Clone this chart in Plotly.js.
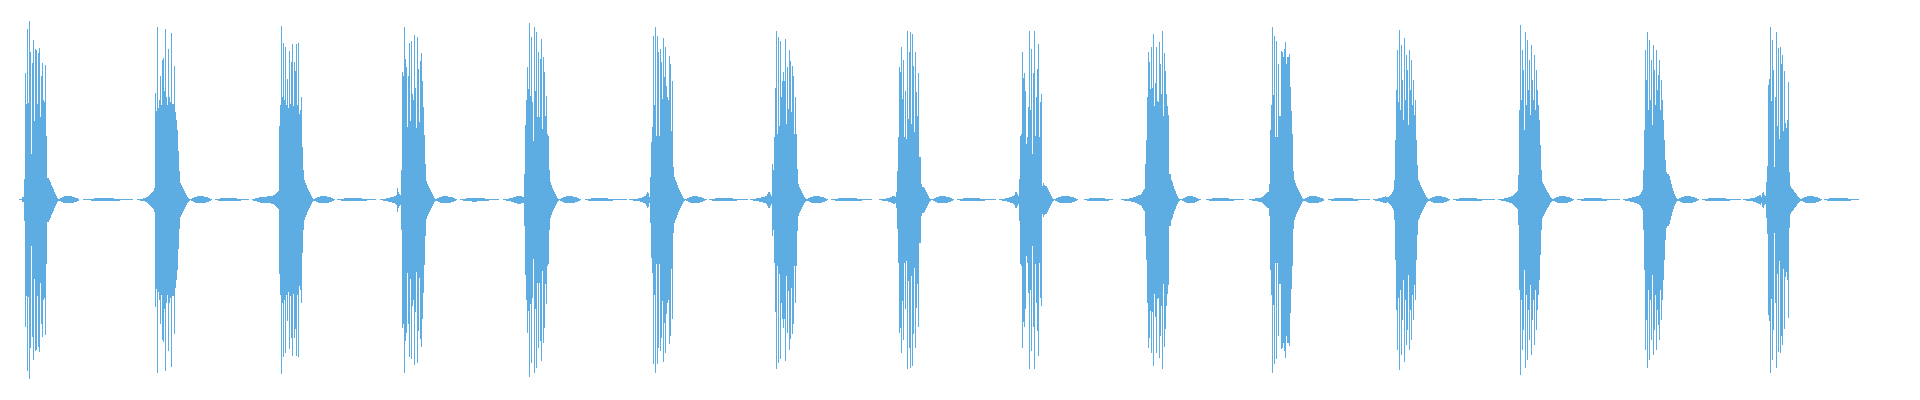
<!DOCTYPE html>
<html>
<head>
<meta charset="utf-8">
<script src="https://cdn.plot.ly/plotly-3.0.1.min.js"></script>
<style>html,body{margin:0;padding:0;background:#ffffff;overflow:hidden}</style>
</head>
<body>
<div id="chart" style="width:1920px;height:400px"></div>
<script>
// Heart-sound style waveform: symmetric envelope amplitude per sample column.
const totalSamples = 1841;
// sample index where each beat's main burst starts
const onsets = [5,136,260,382,505,631,753,877,1000,1126,1250,1375,1499,1624,1747];

const lead = [0.5,0.5,0.5,2.5,2.5];

// main burst + decay of each beat
const b01 = [21,127,96,171,97,179,148,46,137,160,79,151,150,96,147,152,83,124,137,100,98,135,64,22,22,20,18,15,13,11,8,6,4,2,1];
const b02 = [107,89,173,92,100,124,95,140,142,109,171,103,95,151,103,98,167,96,96,134,88,80,70,49,29,17,15,13,11,9,7,5,3,2,1];
const b03 = [74,95,174,103,157,100,153,95,121,92,149,96,138,156,94,138,129,156,95,157,86,90,103,53,30,20,17,15,12,10,8,6,4,2,1];
const b04 = [30,128,124,173,141,133,73,124,157,79,159,106,100,165,112,72,163,131,78,139,147,119,93,65,36,19,16,14,12,10,8,6,4,2,1];
const b05 = [26,75,100,133,111,177,104,163,98,59,173,109,168,83,148,83,141,161,71,143,128,84,104,66,64,30,18,15,12,10,8,6,4,2,1];
const b06 = [23,58,73,164,95,173,64,164,148,64,151,138,101,162,123,153,114,103,100,144,136,69,119,33,23,20,18,15,12,10,8,6,4,2,1];
const b07 = [36,30,63,112,169,66,163,74,159,103,119,128,119,161,76,133,91,150,139,88,134,124,66,103,66,31,16,13,11,9,7,5,3,2,1];
const b08 = [8,29,63,133,128,153,101,140,63,109,61,169,81,148,168,76,166,134,68,148,108,84,127,43,43,16,13,13,12,10,8,6,4,2,1];
const b09 = [21,64,66,148,122,127,109,56,63,93,169,90,151,46,127,169,64,103,131,156,63,98,106,14,17,15,14,14,12,10,8,6,4,2,1];
const b10 = [36,60,103,148,138,111,153,112,166,94,117,153,99,98,158,136,106,169,84,147,129,106,94,85,26,26,20,18,14,11,9,6,4,2,1];
const b11 = [16,70,95,173,105,164,63,159,63,136,84,84,149,148,143,151,158,136,143,143,146,113,89,66,29,20,17,14,12,10,8,6,4,2,1];
const b12 = [20,60,110,150,98,170,90,155,120,80,162,100,145,130,75,150,110,140,95,120,85,100,60,35,20,18,15,13,11,9,7,5,3,2,1];
const b13 = [25,90,175,100,150,130,70,168,95,160,110,140,85,155,120,100,145,90,130,110,95,80,55,30,18,16,14,12,10,8,7,5,3,2,1];
const b14 = [30,70,150,120,168,90,160,100,140,75,155,130,95,150,110,125,140,90,120,100,80,60,40,28,26,26,24,20,16,12,9,6,4,2,1];
const b15 = [18,34,115,121,173,99,160,130,33,103,168,74,152,61,153,136,145,69,129,77,72,80,118,28,14,12,11,10,8,7,6,4,3,2,1];

// quiet part after each burst: small oval, gap, low flat stretch
const t01 = [1,1.5,2,2.5,3,3.5,3.5,3.5,3.5,3.5,3.5,3.5,3.5,3,3,2.5,2,2,1.5,1,0,0,0,0,0.5,0.5,0.5,0.5,0.5,0.5,0.5,0.5,1,1,1,1.5,1.5,1.5,1.5,1.5,1.5,1.5,1.5,1.5,1.5,1.5,1.5,1.5,1.5,1.5,1.5,1.5,1.5,1.5,1.5,1,1,1,1,1,1,0.5,0.5,0.5,0.5,0.5,0.5,0.5,0.5,0.5,0.5,0.5,0.5,0.5];
const t02 = [0.5,1,1.5,2,2.5,3,3,3.5,3.5,3.5,3.5,3.5,3.5,3.5,3,3,2.5,2.5,2,1.5,1,0.5,0,0,0,0.5,0.5,0.5,1,1,1.5,1.5,1.5,1.5,1.5,1.5,1.5,1.5,1.5,1.5,1.5,1.5,1.5,1.5,1.5,1.5,1.5,1,1,1,1,0.5,0.5,0.5,0.5,0.5,0.5,0.5,0.5,0.5,0.5,0.5,0.5,0.5,0.5,0.5,0.5,0.5,0.5,0.5];
const t03 = [1,1.5,2,2.5,3,3,3.5,3.5,3.5,3.5,3.5,3.5,3.5,3,3,2.5,2.5,2,1.5,1,0.5,0,0,0.5,0.5,0.5,0.5,1,1,1,1.5,1.5,1.5,1.5,1.5,1.5,1.5,1.5,1.5,1.5,1.5,1.5,1.5,1.5,1.5,1.5,1.5,1.5,1,1,1,1,1,0.5,0.5,0.5,0.5,0.5,0.5,0.5,0.5,0.5,0.5,0.5,0.5,0.5,0.5,0.5,0.5,0.5,0.5];
const t04 = [1,1.5,2,2.5,3,3,3.5,3.5,3.5,3.5,3.5,3.5,3,3,3,2.5,2.5,2,1.5,1,0.5,0,0,0,0.5,0.5,0.5,1,1,1,1.5,1.5,1.5,1.5,1.5,1.5,2,2,2,2,2,1.5,1.5,1.5,1.5,1.5,1.5,1.5,1.5,1,1,1,1,0.5,0.5,0.5,0.5,0.5,0.5,0.5,0.5,0.5,0.5,0.5,0.5,0.5,0.5,0.5,0.5,0.5,0.5,0.5];
const t05 = [0.5,1,1.5,2,2.5,3,3,3.5,3.5,3.5,3.5,3.5,3.5,3.5,3,3,2.5,2.5,2,1.5,1,0.5,0,0,0,0,0.5,0.5,0.5,1,1,1,1.5,1.5,1.5,1.5,1.5,1.5,1.5,1.5,1.5,1.5,1.5,1.5,1.5,1.5,1.5,1.5,1.5,1,1,1,1,1,0.5,0.5,0.5,0.5,0.5,0.5,0.5,0.5,0.5,0.5,0.5,0.5,0.5,0.5,0.5,0.5,0.5,0.5,0.5];
const t06 = [0.5,1,1.5,2,2.5,3,3,3.5,3.5,3.5,3.5,3.5,3.5,3,3,2.5,2.5,2,1.5,1,0.5,0.5,0,0,0.5,0.5,0.5,1,1,1,1.5,1.5,1.5,1.5,1.5,1.5,1.5,1.5,1.5,1.5,1.5,1.5,1.5,1.5,1.5,1.5,1.5,1.5,1,1,1,1,0.5,0.5,0.5,0.5,0.5,0.5,0.5,0.5,0.5,0.5,0.5,0.5,0.5,0.5,0.5,0.5,0.5,0.5];
const t07 = [1,1.5,2,2.5,3,3,3.5,3.5,3.5,3.5,3.5,3.5,3.5,3,3,2.5,2.5,2,1.5,1,0.5,0,0,0,0.5,0.5,0.5,0.5,1,1,1,1.5,1.5,1.5,1.5,1.5,1.5,1.5,1.5,1.5,1.5,1.5,1.5,1.5,1.5,1.5,1.5,1.5,1.5,1.5,1,1,1,1,1,0.5,0.5,0.5,0.5,0.5,0.5,0.5,0.5,0.5,0.5,0.5,0.5,0.5,0.5,0.5,0.5,0.5];
const t08 = [0.5,0.5,1,1.5,2,2.5,3,3,3.5,3.5,3.5,3.5,3.5,3.5,3.5,3,3,2.5,2.5,2,1.5,1,0.5,0,0,0,0.5,0.5,0.5,1,1,1,1.5,1.5,1.5,1.5,1.5,1.5,1.5,1.5,1.5,1.5,1.5,1.5,1.5,1.5,1.5,1.5,1.5,1,1,1,1,1,0.5,0.5,0.5,0.5,0.5,0.5,0.5,0.5,0.5,0.5,0.5,0.5,0.5,0.5,0.5,0.5,0.5];
const t09 = [0.5,1,1.5,2,2.5,3,3,3.5,3.5,3.5,3.5,3.5,3.5,3.5,3.5,3.5,3,3,2.5,2.5,2,1.5,1,0.5,0,0,0,0,0,0,0.5,0.5,0.5,1,1,1.5,1.5,1.5,1.5,1.5,1.5,1.5,1.5,1.5,1.5,1.5,1.5,1.5,1.5,1.5,1.5,1,1,1,1,0.5,0.5,0.5,0.5,0.5,0.5,0.5,0.5,0.5,0.5,0.5,0.5,0.5,0.5,0.5];
const t10 = [0.5,0.5,1,1.5,2,2.5,3,3.5,3.5,3.5,3.5,3.5,3.5,3,3,2.5,2,1.5,1,0.5,0.5,0,0,0,0,0,0.5,0.5,0.5,1,1,1,1.5,1.5,1.5,1.5,1.5,1.5,1.5,1.5,1.5,1.5,1.5,1.5,1.5,1.5,1.5,1.5,1.5,1,1,1,1,1,0.5,0.5,0.5,0.5,0.5,0.5,0.5,0.5,0.5,0.5,0.5,0.5,0.5,0.5,0.5,0.5,0.5];
const t11 = [1,1.5,2,2.5,3,3.5,3.5,3.5,3.5,3.5,3.5,3.5,3.5,3,3,2.5,2,2,1.5,1,0,0,0,0,0.5,0.5,0.5,1,1,1,1.5,1.5,1.5,1.5,1.5,1.5,1.5,1.5,1.5,1.5,1.5,1.5,1.5,1.5,1.5,1.5,1.5,1.5,1.5,1,1,1,1,1,0.5,0.5,0.5,0.5,0.5,0.5,0.5,0.5,0.5,0.5,0.5,0.5,0.5,0.5,0.5,0.5,0.5,0.5];
const t12 = [1,1.5,2,2.5,3,3,3.5,3.5,3.5,3.5,3.5,3.5,3.5,3,3,2.5,2.5,2,1.5,1,0.5,0,0,0,0.5,0.5,0.5,1,1,1,1.5,1.5,1.5,1.5,1.5,1.5,1.5,1.5,1.5,1.5,1.5,1.5,1.5,1.5,1.5,1.5,1.5,1.5,1,1,1,1,1,0.5,0.5,0.5,0.5,0.5,0.5,0.5,0.5,0.5,0.5,0.5,0.5,0.5,0.5,0.5,0.5,0.5];
const t13 = [1,1.5,2,2.5,3,3,3.5,3.5,3.5,3.5,3.5,3.5,3.5,3,3,2.5,2.5,2,1.5,1,0.5,0,0,0,0.5,0.5,0.5,0.5,1,1,1,1.5,1.5,1.5,1.5,1.5,1.5,1.5,1.5,1.5,1.5,1.5,1.5,1.5,1.5,1.5,1.5,1.5,1.5,1,1,1,1,1,0.5,0.5,0.5,0.5,0.5,0.5,0.5,0.5,0.5,0.5,0.5,0.5,0.5,0.5,0.5,0.5,0.5];
const t14 = [1,1.5,2,2.5,3,3,3.5,3.5,3.5,3.5,3.5,3.5,3.5,3,3,2.5,2.5,2,1.5,1,0.5,0,0,0,0.5,0.5,0.5,1,1,1,1.5,1.5,1.5,1.5,1.5,1.5,1.5,1.5,1.5,1.5,1.5,1.5,1.5,1.5,1.5,1.5,1.5,1.5,1,1,1,1,0.5,0.5,0.5,0.5,0.5,0.5,0.5,0.5,0.5,0.5,0.5,0.5,0.5,0.5,0.5,0.5,0.5,0.5];
const t15 = [1,1.5,2,2.5,3,3,3.5,3.5,3.5,3.5,3.5,3.5,3.5,3,3,2.5,2.5,2,1.5,1,0.5,0,0,0.5,0.5,0.5,1,1,1.5,1.5,1.5,1.5,1.5,1.5,1.5,1.5,1.5,1.5,1.5,1.5,1.5,1.5,1.5,1.5,1.5,1.5,1.5,1,1,1,0.5,0.5,0.5,0.5,0.5,0.5,0.5,0.5];

// build-up just before each burst (ends right before the onset)
const p02 = [0,0,0,0,0.5,0.5,0.5,1,1,1,1.5,1.5,2,2.5,3,4,5,6,7,8,9,12];
const p03 = [0,0,0,0.5,1,1,1.5,1.5,2,2,2.5,3,3,3,3,3,3,3,3.5,3.5,3.5,3.5,4,4,4.5,5,6,7,8,9];
const p04 = [0,0,0,0,0.5,0.5,0.5,1,1,1,1.5,1.5,2,2,2.5,2.5,3,3,3.5,4,5,12,8,6,5];
const p05 = [0,0,0,0,0.5,0.5,0.5,1,1,1,1.5,1.5,2,2,2.5,3,3,3.5,4,4,4,4,3.5,3,3];
const p06 = [0,0,0.5,0.5,0.5,0.5,1,1,1,1,1,1.5,1.5,2,2,2.5,3,3.5,4,6,8,7,3];
const p07 = [0,0,0.5,0.5,0.5,1,1,1,1.5,1.5,1.5,2,2,2.5,2.5,3,3,3.5,4,6,8,8,6,4];
const p08 = [0,0,0,0,0,0,0,0.5,0.5,0.5,1,1,1,1,1.5,1.5,2,2,2.5,3,3.5,4,4,3];
const p09 = [0,0,0,0.5,0.5,0.5,1,1,1,1.5,1.5,2,2,2.5,3,3,3.5,4,5,8,8,6,4];
const p10 = [0,0,0,0,0,0,0,0,0.5,0.5,0.5,1,1,1,1,1,1.5,1.5,2,2,2.5,2.5,3,3.5,4,4.5,5,5,6,8,10,11];
const p11 = [0,0,0,0,0,0.5,0.5,0.5,1,1,1,1.5,1.5,1.5,2,2,2,2.5,3,4,5,6,7,8,8];
const p12 = [0,0,0,0.5,0.5,1,1,1,1.5,1.5,2,2,2.5,3,3,3.5,3,2.5,3,4,5,6,8,10];
const p13 = [0,0,0,0.5,0.5,0.5,1,1,1,1.5,1.5,2,2,2.5,3,3,3.5,4,5,6,7,8,9];
const p14 = [0,0,0,0.5,0.5,1,1,1,1.5,1.5,2,2,2.5,2.5,3,3,3.5,4,4,5,6,8,10];
const p15 = [0,0,0.5,0.5,0.5,1,1,1,1,1.5,1.5,1.5,2,2,2.5,3,3.5,4,4.5,5,3,7,8,5,4];

const bursts = [b01,b02,b03,b04,b05,b06,b07,b08,b09,b10,b11,b12,b13,b14,b15];
const tails = [t01,t02,t03,t04,t05,t06,t07,t08,t09,t10,t11,t12,t13,t14,t15];
const preludes = [p02,p03,p04,p05,p06,p07,p08,p09,p10,p11,p12,p13,p14,p15];

const amp = new Array(totalSamples).fill(0);
lead.forEach((v, i) => { amp[i] = v; });
bursts.forEach((b, k) => {
  b.concat(tails[k]).forEach((v, j) => {
    const i = onsets[k] + j;
    if (i < totalSamples) amp[i] = v;
  });
});
preludes.forEach((p, k) => {
  const end = onsets[k + 1];
  p.forEach((v, j) => { amp[end - p.length + j] = v; });
});

const xs = amp.map((_, i) => i);
const trace = {
  type: 'bar',
  x: xs,
  y: amp.map(a => 2 * a),
  base: amp.map(a => -a),
  width: 0.9,
  marker: { color: '#5DADE2', line: { width: 0 } },
  hoverinfo: 'skip'
};

const layout = {
  width: 1920,
  height: 400,
  margin: { l: 19, r: 60, t: 20, b: 21, pad: 0 },
  paper_bgcolor: '#ffffff',
  plot_bgcolor: '#ffffff',
  showlegend: false,
  bargap: 0,
  xaxis: { range: [-0.5, totalSamples - 0.5], visible: false, fixedrange: true },
  yaxis: { range: [-179.5, 179.5], visible: false, fixedrange: true }
};

Plotly.newPlot('chart', [trace], layout, { displayModeBar: false, responsive: false });
</script>
</body>
</html>
